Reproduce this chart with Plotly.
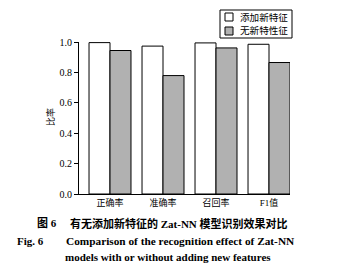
import plotly.graph_objects as go

categories = ["正确率", "准确率", "召回率", "F1值"]
with_new = [0.996, 0.973, 0.994, 0.985]
without_new = [0.944, 0.779, 0.961, 0.865]
series_names = ["添加新特征", "无新特性征"]
series_colors = ["white", "#b1b1b1"]
y_ticks = [0.0, 0.2, 0.4, 0.6, 0.8, 1.0]

W, H = 337, 267
L, R, T, B = 79, 290, 42, 194
pw, ph = R - L, B - T

def px(x):
    return (x - L) / pw

def py(y):
    return (B - y) / ph

serif = "Liberation Serif, Noto Sans CJK SC, serif"
cjk = "Liberation Serif, Noto Sans CJK SC, serif"

fig = go.Figure()
for name, vals, col in zip(series_names, [with_new, without_new], series_colors):
    fig.add_trace(go.Bar(x=list(range(4)), y=vals, name=name,
                         marker=dict(color=col, line=dict(color="black", width=1))))

fig.update_layout(
    width=W, height=H,
    margin=dict(l=L, r=W - R, t=T, b=H - B, pad=0),
    paper_bgcolor="white", plot_bgcolor="white",
    barmode="group", bargap=0.208, bargroupgap=0,
    showlegend=False,
    xaxis=dict(range=[-0.585, 3.396], tickmode="array", tickvals=list(range(4)),
               ticktext=categories, showline=True, linecolor="black", linewidth=1,
               ticks="", showgrid=False, zeroline=False,
               tickfont=dict(family=cjk, size=9, color="black")),
    yaxis=dict(range=[0, 1.0], tickmode="array", tickvals=y_ticks,
               ticktext=[f"{v:.1f}" for v in y_ticks], showline=True,
               linecolor="black", linewidth=1, ticks="outside", ticklen=4,
               tickcolor="black", showgrid=False, zeroline=False,
               tickfont=dict(family=serif, size=10, color="black")),
)

# manual legend (box, swatches, labels)
fig.add_shape(type="rect", xref="paper", yref="paper",
              x0=px(220), x1=px(292), y0=py(38), y1=py(10),
              line=dict(color="black", width=1), fillcolor="white", layer="above")
for i, (name, col) in enumerate(zip(series_names, series_colors)):
    yc = 17 + i * 14
    fig.add_shape(type="rect", xref="paper", yref="paper",
                  x0=px(225), x1=px(233), y0=py(yc + 4), y1=py(yc - 4),
                  line=dict(color="black", width=1), fillcolor=col, layer="above")
    fig.add_annotation(xref="paper", yref="paper", x=px(238), y=py(yc), text=name,
                       xanchor="left", yanchor="middle", showarrow=False,
                       font=dict(family=cjk, size=9.6, color="black"))

ann = [
    dict(x=px(50), y=py(117), text="比率", textangle=-90, xanchor="center",
         yanchor="middle", font=dict(family=cjk, size=9, color="black")),
    dict(x=px(35), y=py(223), text="<b>图 6</b>", xanchor="left", yanchor="middle",
         font=dict(family=cjk, size=11, color="black")),
    dict(x=px(68), y=py(223), text="<b>有无添加新特征的 Zat-NN 模型识别效果对比</b>",
         xanchor="left", yanchor="middle", font=dict(family=cjk, size=11, color="black")),
    dict(x=px(15), y=py(241), text="<b>Fig. 6</b>", xanchor="left", yanchor="middle",
         font=dict(family=serif, size=11, color="black")),
    dict(x=px(64), y=py(241), text="<b>Comparison of the recognition effect of Zat-NN</b>",
         xanchor="left", yanchor="middle", font=dict(family=serif, size=11.3, color="black")),
    dict(x=px(63), y=py(257), text="<b>models with or without adding new features</b>",
         xanchor="left", yanchor="middle", font=dict(family=serif, size=11, color="black")),
]
for a in ann:
    a.update(xref="paper", yref="paper", showarrow=False)
    fig.add_annotation(**a)

fig.write_html("out.html")
